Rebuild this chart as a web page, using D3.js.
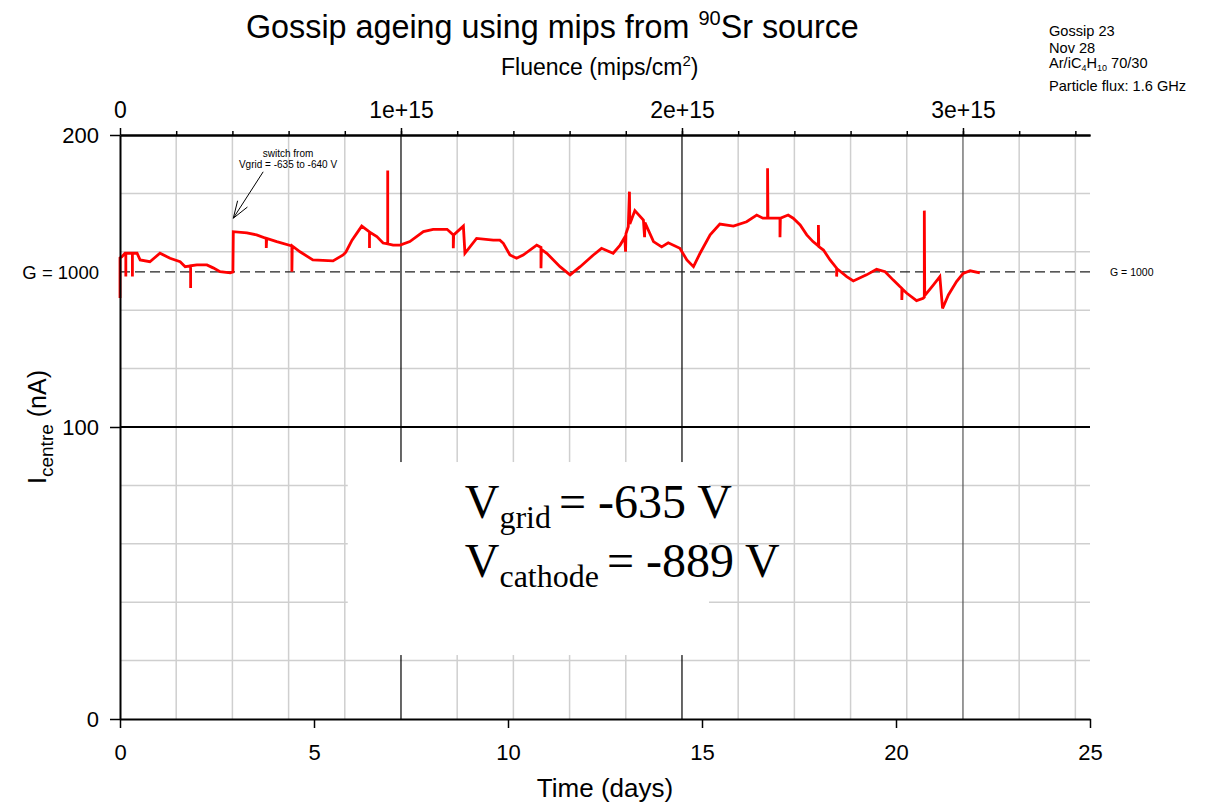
<!DOCTYPE html>
<html>
<head>
<meta charset="utf-8">
<script src="https://cdn.jsdelivr.net/npm/d3@7"></script>
<style>
  body { margin: 0; background: #fff; }
  svg { display: block; font-family: "Liberation Sans", Arial, sans-serif; }
</style>
</head>
<body>
<svg id="chart" width="1205" height="804"></svg>
<script>
// time since start (days) and centre current (nA)
const days = [
  0.00, 0.00, 0.05, 0.13, 0.15, 0.15, 0.15, 0.32, 0.32, 0.32, 0.44, 0.52, 0.77, 1.03, 1.29, 1.55, 1.68,
  1.82, 1.82, 1.82, 1.98, 2.24, 2.40, 2.58, 2.84, 2.91, 2.92, 3.27, 3.52, 3.77, 3.77, 3.78, 4.04,
  4.43, 4.43, 4.44, 4.64, 4.97, 5.49, 5.75, 5.82, 5.98, 6.23, 6.43, 6.43, 6.43, 6.62, 6.78,
  6.90, 6.90, 6.90, 7.04, 7.22, 7.47, 7.82, 8.07, 8.43, 8.59, 8.59, 8.60, 8.85, 8.89, 9.19,
  9.62, 9.79, 9.88, 10.05, 10.22, 10.39, 10.74, 10.85, 10.85, 10.86, 11.00, 11.34, 11.60, 11.86,
  12.20, 12.41, 12.71, 12.89, 13.01, 13.03, 13.04, 13.10, 13.13, 13.14, 13.27, 13.49, 13.52, 13.53,
  13.75, 13.96, 14.13, 14.43, 14.61, 14.78, 14.95, 15.21, 15.46, 15.81, 16.15, 16.41, 16.57,
  16.69, 16.69, 16.70, 17.01, 17.01, 17.02, 17.22, 17.35, 17.53, 17.70, 17.86, 18.00, 18.00, 18.01,
  18.13, 18.30, 18.47, 18.47, 18.48, 18.73, 18.90, 19.24, 19.50, 19.72, 19.93, 20.10, 20.15, 20.15,
  20.16, 20.28, 20.53, 20.70, 20.73, 20.73, 20.74, 20.96, 21.13, 21.20, 21.35, 21.56, 21.73, 21.91, 22.16
];
const current = [
  144.2, 157.9, 158.3, 159.5, 159.5, 151.5, 159.5, 159.5, 151.5, 159.5, 159.5, 157.2, 156.6, 159.5, 157.8, 156.6, 154.9,
  155.2, 147.6, 155.2, 155.5, 155.5, 154.5, 153.2, 152.8, 153.1, 166.9, 166.5, 165.8, 164.6, 161.3, 164.6, 163.5,
  162.0, 153.2, 162.0, 160.0, 157.2, 156.9, 158.9, 159.9, 164.0, 168.8, 166.8, 161.3, 166.8, 165.2, 163.0,
  162.7, 187.8, 162.7, 162.3, 162.3, 163.5, 166.9, 167.7, 167.7, 165.8, 161.2, 165.8, 168.8, 159.5, 164.6,
  164.0, 164.0, 162.9, 158.9, 157.8, 158.9, 162.3, 161.5, 154.4, 160.8, 159.5, 154.9, 152.1, 154.9,
  158.9, 161.2, 159.5, 162.3, 165.0, 160.0, 166.2, 168.6, 180.6, 169.5, 174.1, 170.9, 165.0, 170.0,
  163.5, 161.7, 163.1, 161.2, 157.2, 154.9, 159.5, 165.8, 169.5, 168.8, 170.3, 172.6, 171.5,
  171.5, 188.6, 171.5, 171.5, 165.0, 171.5, 172.6, 171.5, 169.2, 165.8, 163.5, 162.0, 169.2, 161.8,
  160.6, 157.2, 154.4, 151.5, 154.2, 151.5, 150.0, 152.1, 154.0, 153.2, 150.3, 148.1, 147.5, 143.5,
  147.3, 145.8, 143.3, 144.1, 144.5, 174.1, 145.0, 148.6, 151.5, 140.6, 145.2, 149.8, 152.6, 153.5, 152.8
];

const dayTicks = [0, 5, 10, 15, 20, 25];
const currentTicks = [0, 100, 200];
const currentGrid = [20, 40, 60, 80, 120, 140, 160, 180];
const fluenceMajor = [0, 1e15, 2e15, 3e15];
const fluenceMinor = d3.range(1, 18).map(k => k * 0.2e15);
const gainLevel = 153.1;          // current at G = 1000
const daysPerE15 = 7.242;         // days of running per 1e15 mips/cm2
const notes = ["Gossip 23", "Nov 28", "Ar/iC4H10 70/30", "Particle flux: 1.6 GHz"];

const svg = d3.select("#chart");
const plotLeft = 120, plotRight = 1090, plotTop = 135, plotBottom = 719;

const x = d3.scaleLinear().domain([0, 25]).range([plotLeft, plotRight]);
const y = d3.scaleLinear().domain([0, 200]).range([plotBottom, plotTop]);
const xf = d3.scaleLinear().domain([0, 25 / daysPerE15 * 1e15]).range([plotLeft, plotRight]);

// grid
const grid = svg.append("g").attr("stroke", "#cfcfcf").attr("stroke-width", 1.5);
grid.selectAll("line.v")
  .data(fluenceMinor.filter(f => f % 1e15 !== 0))
  .enter().append("line")
  .attr("x1", d => xf(d)).attr("x2", d => xf(d))
  .attr("y1", plotTop).attr("y2", plotBottom);
grid.selectAll("line.h")
  .data(currentGrid)
  .enter().append("line")
  .attr("x1", plotLeft).attr("x2", plotRight)
  .attr("y1", d => y(d)).attr("y2", d => y(d));

// major fluence lines + 100 nA line
svg.append("g").selectAll("line")
  .data(fluenceMajor.slice(1))
  .enter().append("line")
  .attr("x1", d => xf(d)).attr("x2", d => xf(d))
  .attr("y1", plotTop).attr("y2", plotBottom)
  .attr("stroke", (d, i) => (i === 2 ? "#555" : "#000")).attr("stroke-width", 1.2);
svg.append("line")
  .attr("x1", plotLeft).attr("x2", plotRight)
  .attr("y1", y(100)).attr("y2", y(100))
  .attr("stroke", "#000").attr("stroke-width", 2);

// G = 1000 reference
svg.append("line")
  .attr("x1", plotLeft).attr("x2", plotRight)
  .attr("y1", y(gainLevel)).attr("y2", y(gainLevel))
  .attr("stroke", "#222").attr("stroke-width", 1.2)
  .attr("stroke-dasharray", "10,5");
svg.append("text")
  .attr("x", 99).attr("y", y(gainLevel) + 7)
  .attr("text-anchor", "end").attr("font-size", 18.5)
  .text("G = 1000");
svg.append("text")
  .attr("x", 1110).attr("y", y(gainLevel) + 4)
  .attr("font-size", 10.5)
  .text("G = 1000");

// white box with voltages
const bx0 = x(5.87), bx1 = x(15.18), by0 = y(88), by1 = y(21.9);
svg.append("rect")
  .attr("x", bx0).attr("y", by0)
  .attr("width", bx1 - bx0).attr("height", by1 - by0)
  .attr("fill", "#fff");

function addVoltage(ypos, sub, rest) {
  const t = svg.append("text")
    .attr("x", bx0 + 117).attr("y", ypos)
    .attr("font-family", "'Liberation Serif', 'Times New Roman', serif")
    .attr("font-size", 48);
  t.append("tspan").text("V");
  t.append("tspan").attr("font-size", 32).attr("dy", 10).text(sub + " ");
  t.append("tspan").attr("dy", -10).text(rest);
}
addVoltage(by0 + 56, "grid", "= -635 V");
addVoltage(by0 + 115, "cathode", "= -889 V");

// data
const line = d3.line().x(d => x(d[0])).y(d => y(d[1]));
svg.append("path")
  .datum(d3.zip(days, current))
  .attr("d", line)
  .attr("fill", "none")
  .attr("stroke", "#ff0000")
  .attr("stroke-width", 2.8)
  .attr("stroke-linejoin", "miter");

// axes
function styleAxis(g, size) {
  g.attr("font-family", null).attr("font-size", size);
  g.select(".domain").attr("stroke-width", 2);
  g.selectAll(".tick line").attr("stroke-width", 1.5);
}

svg.append("g")
  .attr("transform", `translate(0,${plotBottom})`)
  .call(d3.axisBottom(x).tickValues(dayTicks).tickSize(9).tickSizeOuter(0).tickPadding(16))
  .call(g => styleAxis(g, 22));

svg.append("g")
  .attr("transform", `translate(${plotLeft},0)`)
  .call(d3.axisLeft(y).tickValues(currentTicks).tickSize(10).tickSizeOuter(0).tickPadding(11))
  .call(g => styleAxis(g, 22));

svg.append("g")
  .attr("transform", `translate(0,${plotTop})`)
  .call(d3.axisTop(xf).tickValues(fluenceMinor).tickSize(4).tickSizeOuter(0).tickFormat(""))
  .call(g => styleAxis(g, 23));

svg.append("g")
  .attr("transform", `translate(0,${plotTop})`)
  .call(d3.axisTop(xf).tickValues(fluenceMajor).tickSize(7).tickSizeOuter(0).tickPadding(10)
    .tickFormat(d => d === 0 ? "0" : (d / 1e15) + "e+15"))
  .call(g => styleAxis(g, 23));

// titles
const title = svg.append("text").attr("x", 246).attr("y", 38).attr("font-size", 32.3);
title.append("tspan").text("Gossip ageing using mips from ");
title.append("tspan").attr("font-size", 20).attr("dy", -13).text("90");
title.append("tspan").attr("dy", 13).text("Sr source");

const flu = svg.append("text").attr("x", 501).attr("y", 75).attr("font-size", 23);
flu.append("tspan").text("Fluence (mips/cm");
flu.append("tspan").attr("font-size", 15).attr("dy", -9).text("2");
flu.append("tspan").attr("dy", 9).text(")");

svg.append("text")
  .attr("x", 605).attr("y", 797)
  .attr("text-anchor", "middle").attr("font-size", 26)
  .text("Time (days)");

const ylab = svg.append("text")
  .attr("transform", `translate(46,${y(100)}) rotate(-90)`)
  .attr("text-anchor", "middle").attr("font-size", 25);
ylab.append("tspan").text("I");
ylab.append("tspan").attr("font-size", 19).attr("dy", 7).text("centre");
ylab.append("tspan").attr("dy", -7).text(" (nA)");

// run info, top right
const info = svg.append("g").attr("font-size", 14.6);
info.append("text").attr("x", 1049).attr("y", 36).text(notes[0]);
info.append("text").attr("x", 1049).attr("y", 53).text(notes[1]);
const gas = info.append("text").attr("x", 1049).attr("y", 68);
gas.append("tspan").text("Ar/iC");
gas.append("tspan").attr("font-size", 9).attr("dy", 3).text("4");
gas.append("tspan").attr("dy", -3).text("H");
gas.append("tspan").attr("font-size", 9).attr("dy", 3).text("10");
gas.append("tspan").attr("dy", -3).text(" 70/30");
info.append("text").attr("x", 1049).attr("y", 91).text(notes[3]);

// HV switch annotation
const tipX = x(2.92), tipY = y(171.5);
const tailX = x(3.69), tailY = y(187.4);
svg.append("text")
  .attr("x", x(4.33)).attr("y", y(192.6))
  .attr("text-anchor", "middle").attr("font-size", 10)
  .selectAll("tspan")
  .data(["switch from", "Vgrid = -635 to -640 V"])
  .enter().append("tspan")
  .attr("x", x(4.33))
  .attr("dy", (d, i) => (i === 0 ? 0 : 11.7))
  .text(d => d);

const ang = Math.atan2(tailY - tipY, tailX - tipX);
const headLen = 18, spread = 0.33;
const arrow = d3.path();
arrow.moveTo(tailX, tailY);
arrow.lineTo(tipX, tipY);
arrow.moveTo(tipX + headLen * Math.cos(ang - spread), tipY + headLen * Math.sin(ang - spread));
arrow.lineTo(tipX, tipY);
arrow.lineTo(tipX + headLen * Math.cos(ang + spread), tipY + headLen * Math.sin(ang + spread));
svg.append("path")
  .attr("d", arrow.toString())
  .attr("fill", "none").attr("stroke", "#000").attr("stroke-width", 1);
</script>
</body>
</html>
